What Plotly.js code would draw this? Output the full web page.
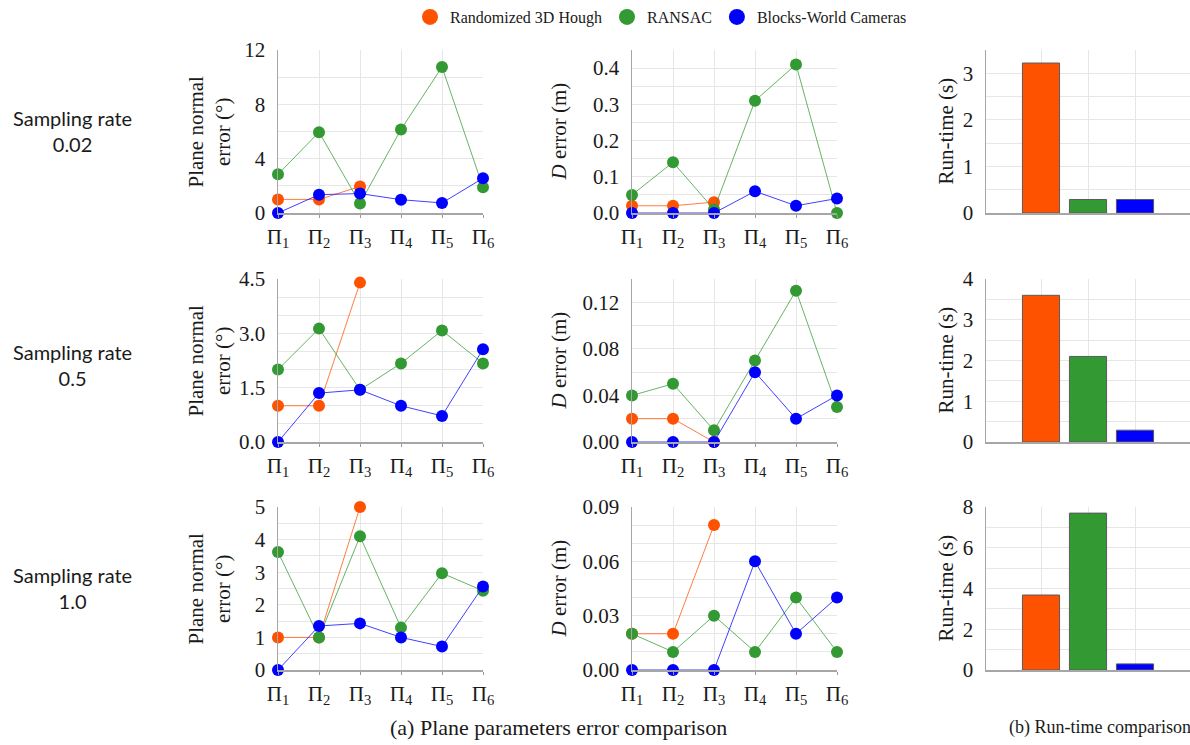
<!DOCTYPE html>
<html>
<head>
<meta charset="utf-8">
<script src="https://cdn.plot.ly/plotly-3.0.1.min.js"></script>
<style>
html,body{margin:0;padding:0;background:#fff;overflow:hidden;}
#chart{width:1190px;height:745px;}
</style>
</head>
<body>
<div id="chart"></div>
<script>
// ---------- data ----------
const methods = ['Randomized 3D Hough', 'RANSAC', 'Blocks-World Cameras'];
const methodColors = ['#FF5200', '#339933', '#0000FF'];
const lineColors = ['rgba(255,82,0,0.75)', 'rgba(51,153,51,0.75)', 'rgba(0,0,255,0.75)'];
const planeIdx = [1, 2, 3, 4, 5, 6];
const planeLabels = ['Π<sub>1</sub>', 'Π<sub>2</sub>', 'Π<sub>3</sub>', 'Π<sub>4</sub>', 'Π<sub>5</sub>', 'Π<sub>6</sub>'];
const houghIdx = [1, 2, 3];
const samplingRates = ['0.02', '0.5', '1.0'];

// plane normal error (degrees)
const houghNormal002 = [1.0, 1.0, 1.95];
const ransacNormal002 = [2.85, 5.95, 0.7, 6.15, 10.75, 1.9];
const bwcNormal002 = [0.0, 1.35, 1.43, 0.98, 0.74, 2.56];
const houghNormal05 = [1.0, 1.0, 4.4];
const ransacNormal05 = [2.0, 3.13, 1.44, 2.17, 3.08, 2.17];
const bwcNormal05 = [0.0, 1.35, 1.44, 1.0, 0.72, 2.56];
const houghNormal10 = [1.0, 1.0, 5.0];
const ransacNormal10 = [3.62, 1.0, 4.1, 1.3, 2.97, 2.43];
const bwcNormal10 = [0.0, 1.35, 1.43, 1.0, 0.72, 2.56];

// D error (m)
const houghD002 = [0.02, 0.02, 0.03];
const ransacD002 = [0.05, 0.14, 0.01, 0.31, 0.41, 0.0];
const bwcD002 = [0.0, 0.0, 0.0, 0.06, 0.02, 0.04];
const houghD05 = [0.02, 0.02, 0.0];
const ransacD05 = [0.04, 0.05, 0.01, 0.07, 0.13, 0.03];
const bwcD05 = [0.0, 0.0, 0.0, 0.06, 0.02, 0.04];
const houghD10 = [0.02, 0.02, 0.08];
const ransacD10 = [0.02, 0.01, 0.03, 0.01, 0.04, 0.01];
const bwcD10 = [0.0, 0.0, 0.0, 0.06, 0.02, 0.04];

// run-time (s): [Hough, RANSAC, BWC]
const barIdx = [0, 1, 2];
const runtime002 = [3.22, 0.29, 0.29];
const runtime05 = [3.6, 2.1, 0.29];
const runtime10 = [3.68, 7.7, 0.3];

// ---------- layout helpers ----------
const W = 1190, H = 745;
const px = v => v / W;
const py = v => 1 - v / H;
const colX = [[278, 483], [632, 837], [986, 1190]];
const rowY = [[50, 213], [279, 442], [507, 670]];
const serif = 'Liberation Serif';
const textColor = '#1a1a1a';
const gridColor = '#e6e6e6';
const tickFont = {family: serif, size: 21, color: textColor};

const traces = [];
const layout = {
  width: W, height: H,
  margin: {l: 0, r: 0, t: 0, b: 0},
  paper_bgcolor: '#fff', plot_bgcolor: '#fff',
  font: {family: serif, size: 20, color: textColor},
  showlegend: true,
  legend: {
    orientation: 'h', x: px(410), y: py(17), xanchor: 'left', yanchor: 'middle',
    font: {family: serif, size: 16, color: textColor},
    itemsizing: 'trace', traceorder: 'normal', bgcolor: 'rgba(0,0,0,0)'
  },
  annotations: []
};

function axisId(n) { return n === 1 ? '' : String(n); }

function lineAxes(n, col, row, yCfg) {
  const id = axisId(n);
  layout['xaxis' + id] = {
    domain: [px(colX[col][0]), px(colX[col][1])],
    anchor: 'y' + id,
    range: [1, 6], fixedrange: true,
    tickmode: 'array', tickvals: planeIdx, ticktext: planeLabels,
    ticks: 'outside', ticklen: 3, tickcolor: '#999',
    ticklabelstandoff: 1,
    showgrid: true, gridcolor: gridColor, gridwidth: 1,
    showline: true, linecolor: '#a6a6a6', linewidth: 1.5,
    zeroline: false,
    tickfont: tickFont
  };
  layout['yaxis' + id] = Object.assign({
    domain: [py(rowY[row][1]), py(rowY[row][0])],
    anchor: 'x' + id, fixedrange: true,
    tick0: 0, ticks: '',
    ticklabelstandoff: 7,
    showgrid: true, gridcolor: gridColor, gridwidth: 1,
    showline: true, linecolor: '#a6a6a6', linewidth: 1.5,
    zeroline: false,
    tickfont: tickFont
  }, yCfg);
}

function barAxes(n, row, yCfg) {
  const id = axisId(n);
  layout['xaxis' + id] = {
    domain: [px(colX[2][0]), px(colX[2][1])],
    anchor: 'y' + id,
    range: [-1.17, 3.17], fixedrange: true,
    tickmode: 'array', tickvals: barIdx, showticklabels: false, ticks: '',
    showgrid: true, gridcolor: gridColor, gridwidth: 1,
    showline: true, linecolor: '#a6a6a6', linewidth: 1.5, zeroline: false
  };
  layout['yaxis' + id] = Object.assign({
    domain: [py(rowY[row][1]), py(rowY[row][0])],
    anchor: 'x' + id, fixedrange: true,
    tick0: 0, ticks: '', ticklabelstandoff: 7,
    showgrid: true, gridcolor: gridColor, gridwidth: 1,
    showline: true, linecolor: '#a6a6a6', linewidth: 1.5, zeroline: false,
    tickfont: tickFont
  }, yCfg);
}

function lineTraces(n, hough, ransac, bwc) {
  const id = axisId(n);
  const sets = [[houghIdx, hough], [planeIdx, ransac], [planeIdx, bwc]];
  sets.forEach((s, i) => {
    traces.push({
      type: 'scatter', mode: 'lines+markers',
      x: s[0], y: s[1], xaxis: 'x' + id, yaxis: 'y' + id,
      name: methods[i], showlegend: false, cliponaxis: false,
      line: {color: lineColors[i], width: 1},
      marker: {color: methodColors[i], size: 12},
      hoverinfo: 'skip'
    });
  });
}

function barTrace(n, vals) {
  const id = axisId(n);
  traces.push({
    type: 'bar', x: barIdx, y: vals, xaxis: 'x' + id, yaxis: 'y' + id,
    width: 0.79, showlegend: false,
    marker: {color: methodColors, line: {color: '#5a5a5a', width: 1}},
    hoverinfo: 'skip'
  });
}

function ytitle(text, xc, row) {
  layout.annotations.push({
    text: text, xref: 'paper', yref: 'paper',
    x: px(xc), y: py((rowY[row][0] + rowY[row][1]) / 2),
    xanchor: 'center', yanchor: 'middle', textangle: -90, showarrow: false,
    font: {family: serif, size: 21, color: textColor}, align: 'center'
  });
}

function minorGrid(d) { return {dtick: d, showgrid: true, gridcolor: gridColor}; }

// Row 1 (0.02)
lineAxes(1, 0, 0, {range: [0, 12], dtick: 4, minor: minorGrid(2)});
lineTraces(1, houghNormal002, ransacNormal002, bwcNormal002);
lineAxes(2, 1, 0, {range: [0, 0.45], dtick: 0.1, tickformat: '.1f', minor: minorGrid(0.05)});
lineTraces(2, houghD002, ransacD002, bwcD002);
barAxes(3, 0, {range: [0, 3.5], dtick: 1, minor: minorGrid(0.5)});
barTrace(3, runtime002);

// Row 2 (0.5)
lineAxes(4, 0, 1, {range: [0, 4.5], dtick: 1.5, tickformat: '.1f', minor: minorGrid(0.5)});
lineTraces(4, houghNormal05, ransacNormal05, bwcNormal05);
lineAxes(5, 1, 1, {range: [0, 0.14], dtick: 0.04, tickformat: '.2f', minor: minorGrid(0.02)});
lineTraces(5, houghD05, ransacD05, bwcD05);
barAxes(6, 1, {range: [0, 4], dtick: 1, minor: minorGrid(0.5)});
barTrace(6, runtime05);

// Row 3 (1.0)
lineAxes(7, 0, 2, {range: [0, 5], dtick: 1, minor: minorGrid(0.5)});
lineTraces(7, houghNormal10, ransacNormal10, bwcNormal10);
lineAxes(8, 1, 2, {range: [0, 0.09], dtick: 0.03, tickformat: '.2f', minor: minorGrid(0.01)});
lineTraces(8, houghD10, ransacD10, bwcD10);
barAxes(9, 2, {range: [0, 8], dtick: 2, minor: minorGrid(1)});
barTrace(9, runtime10);

// legend entries (marker only)
methods.forEach((m, i) => {
  traces.push({
    type: 'scatter', mode: 'markers', x: [null], y: [null], xaxis: 'x', yaxis: 'y',
    name: m, showlegend: true, marker: {color: methodColors[i], size: 16}, hoverinfo: 'skip'
  });
});

// titles
for (let r = 0; r < 3; r++) {
  ytitle('Plane normal<br>error (°)', 209, r);
  ytitle('<i>D</i> error (m)', 558, r);
  ytitle('Run-time (s)', 945, r);
  layout.annotations.push({
    text: 'Sampling rate<br>' + samplingRates[r], xref: 'paper', yref: 'paper',
    x: px(72), y: py([131, 365, 588][r]), xanchor: 'center', yanchor: 'middle',
    showarrow: false, align: 'center',
    font: {family: 'Lato', size: 20, color: textColor}
  });
}
layout.annotations.push({
  text: '(a) Plane parameters error comparison', xref: 'paper', yref: 'paper',
  x: px(558), y: py(727), xanchor: 'center', yanchor: 'middle', showarrow: false,
  font: {family: serif, size: 22, color: textColor}
});
layout.annotations.push({
  text: '(b) Run-time comparison', xref: 'paper', yref: 'paper',
  x: px(1007), y: py(727), xanchor: 'left', yanchor: 'middle', showarrow: false,
  font: {family: serif, size: 18, color: textColor}
});

Plotly.newPlot('chart', traces, layout, {displayModeBar: false, staticPlot: true});
</script>
</body>
</html>
